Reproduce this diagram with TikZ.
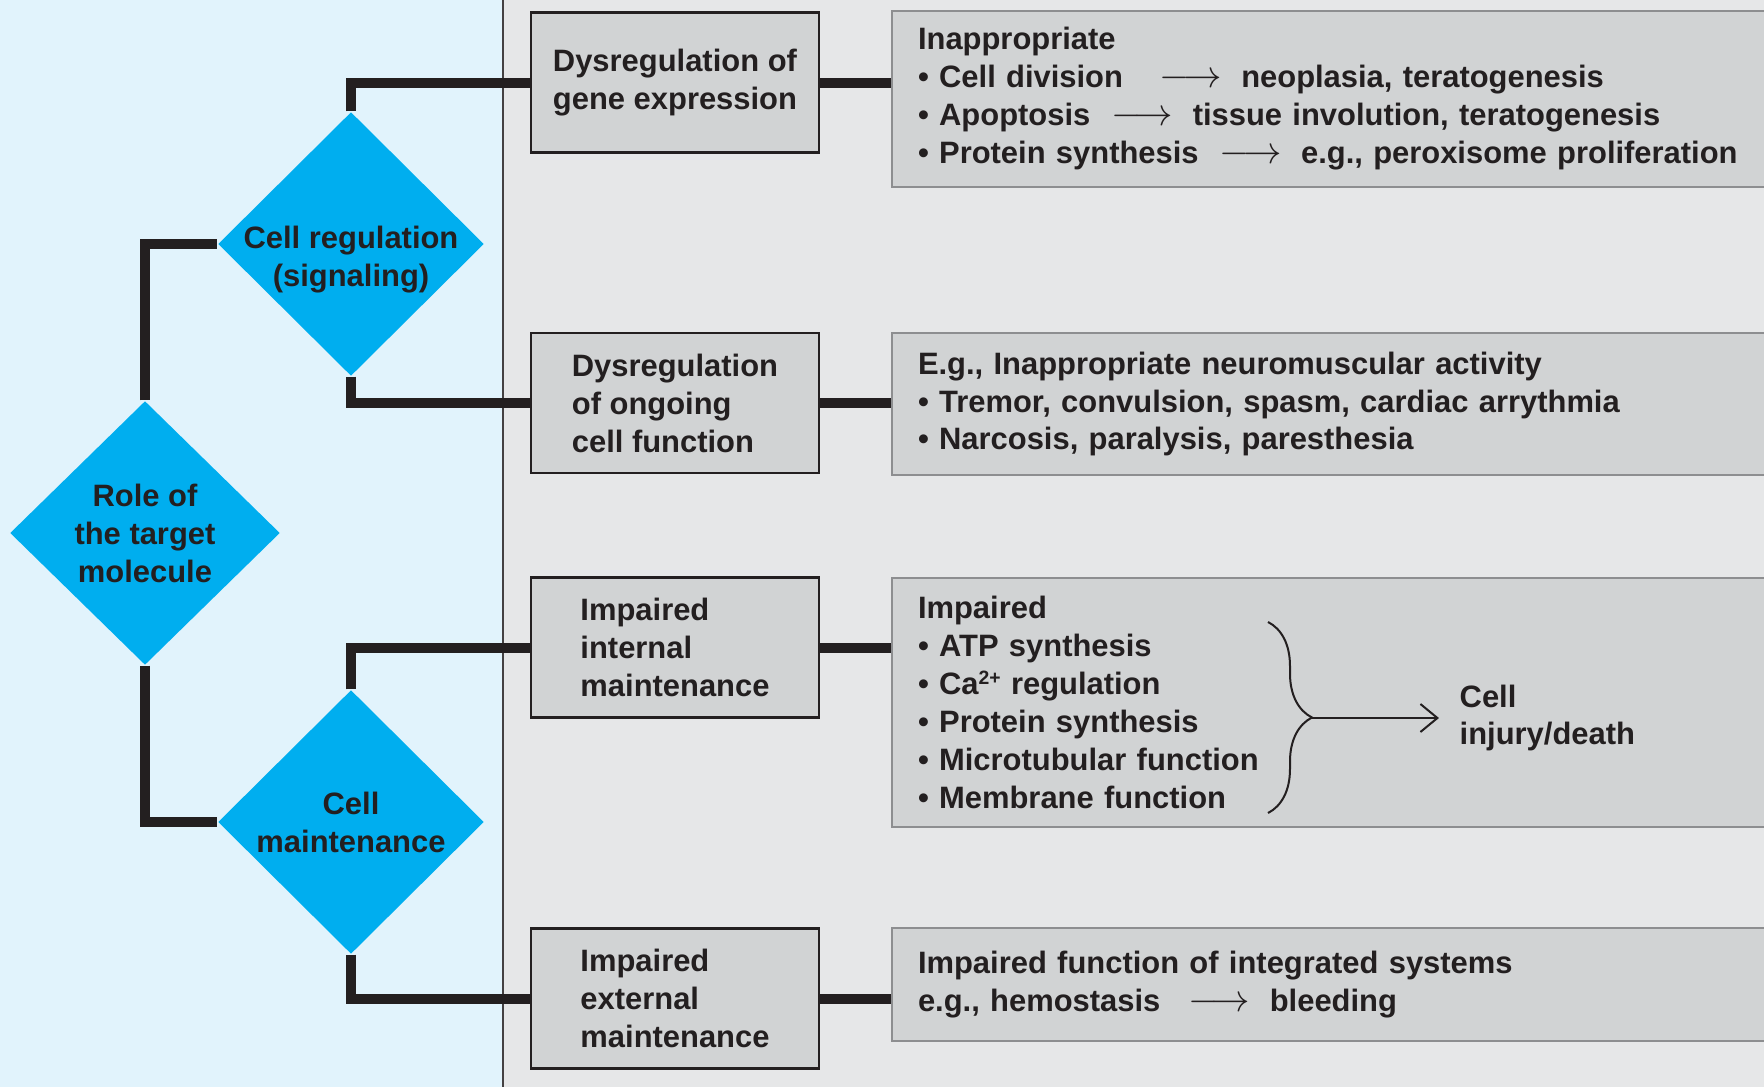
\documentclass[tikz,border=0pt]{standalone}
\usepackage{fontspec}
\setmainfont{Liberation Sans}
\usetikzlibrary{shapes.geometric,arrows.meta,positioning,decorations.pathreplacing}
\definecolor{ink}{HTML}{231F20}
\definecolor{panelblue}{HTML}{E1F3FC}
\definecolor{panelgrey}{HTML}{E6E7E8}
\definecolor{boxgrey}{HTML}{D1D3D4}
\definecolor{rimgrey}{HTML}{8D8E90}
\definecolor{targetcyan}{HTML}{00AEEF}
\newcommand{\yields}[1][6pt]{\hspace{#1}{\fontsize{10.5}{10.5}\selectfont$\longrightarrow$}\hspace{5.5pt}}
\newcommand{\ion}[1]{\raisebox{3pt}{\fontsize{5.5}{6}\selectfont #1}}
\tikzset
{
    decision/.style = {diamond, fill=targetcyan, align=center, minimum width=26.6mm, minimum height=26.4mm, inner sep=-0.5mm},
    process/.style  = {rectangle, draw=ink, line width=0.25mm, fill=boxgrey, minimum width=28.8mm, minimum height=14mm, align=left},
    effect/.style   = {rectangle, draw=rimgrey, line width=0.2mm, fill=boxgrey, anchor=west, minimum width=90mm, text width=84.8mm, inner xsep=2.6mm, align=left},
    link/.style     = {ink, line width=1mm},
    arrow/.style    = {ink, line width=0.2mm, -{Straight Barb[length=1.7mm, width=2.8mm]}},
    every node/.style = {text=ink, font=\fontsize{8.8}{10.8}\selectfont\bfseries}
}

\begin{document}
\begin{tikzpicture}[x=0.1mm, y=-0.1mm]
	\clip (0,0) rectangle (1764,1087);
	\fill [panelblue] (0,0) rectangle (503,1087);
	\fill [panelgrey] (503,0) rectangle (1764,1087);
	\draw [ink!85, line width=0.2mm] (503,0) -- (503,1087);

	\node (role) [decision, minimum width=27mm] at (145,533) {Role of\\the target\\molecule};
	\node (creg) [decision, inner sep=-1.4mm] at (351,244) {\rule{0pt}{15pt}Cell regulation\\(signaling)};
	\node (cmaint) [decision] at (351,822) {Cell\\maintenance};

	\node (gene) [process] at (675,82.5) {Dysregulation of\\gene expression};
	\node (ongoing) [process] at (675,403) {Dysregulation\\of ongoing\\cell function};
	\node (internal) [process] at (675,647.5) {Impaired\\internal\\maintenance};
	\node (external) [process] at (675,998.5) {Impaired\\external\\maintenance};

	\node (r1) [effect, minimum height=17.6mm] at (891,99) {Inappropriate\\
		\textbullet{} Cell division\yields[10.5pt]neoplasia, teratogenesis\\
		\textbullet{} Apoptosis\yields tissue involution, teratogenesis\\
		\textbullet{} Protein synthesis\yields e.g., peroxisome proliferation};
	\node (r2) [effect, minimum height=14.2mm] at (891,404) {E.g., Inappropriate neuromuscular activity\\
		\textbullet{} Tremor, convulsion, spasm, cardiac arrythmia\\
		\textbullet{} Narcosis, paralysis, paresthesia};
	\node (r3) [effect, minimum height=24.9mm] at (891,702.5) {Impaired\\
		\textbullet{} ATP synthesis\\
		\textbullet{} Ca\ion{2+} regulation\\
		\textbullet{} Protein synthesis\\
		\textbullet{} Microtubular function\\
		\textbullet{} Membrane function};
	\node (r4) [effect, minimum height=11.3mm] at (891,984.5) {Impaired function of integrated systems\\
		e.g., hemostasis\yields[8pt]bleeding};

	\coordinate (btop) at (1268,622);
	\coordinate (bbot) at (1268,813);
	\coordinate (btip) at (1312,718);
	\node (injury) [anchor=west, inner sep=2mm, align=left] at (1439,718) {Cell\\injury/death};
	\draw [ink, line width=0.2mm, decorate, decoration={brace, amplitude=4.4mm}] (btop) -- (bbot);
	\draw [arrow] (btip) -- (injury.west);

	\draw [link] (role.north) |- (creg.west);
	\draw [link] (role.south) |- (cmaint.west);
	\draw [link] (creg.north) |- (gene.west);
	\draw [link] (creg.south) |- (ongoing.west);
	\draw [link] (cmaint.north) |- (internal.west);
	\draw [link] (cmaint.south) |- (external.west);
	\draw [link] (gene.east) -- (gene.east -| r1.west);
	\draw [link] (ongoing.east) -- (ongoing.east -| r2.west);
	\draw [link] (internal.east) -- (internal.east -| r3.west);
	\draw [link] (external.east) -- (external.east -| r4.west);
\end{tikzpicture}
\end{document}
